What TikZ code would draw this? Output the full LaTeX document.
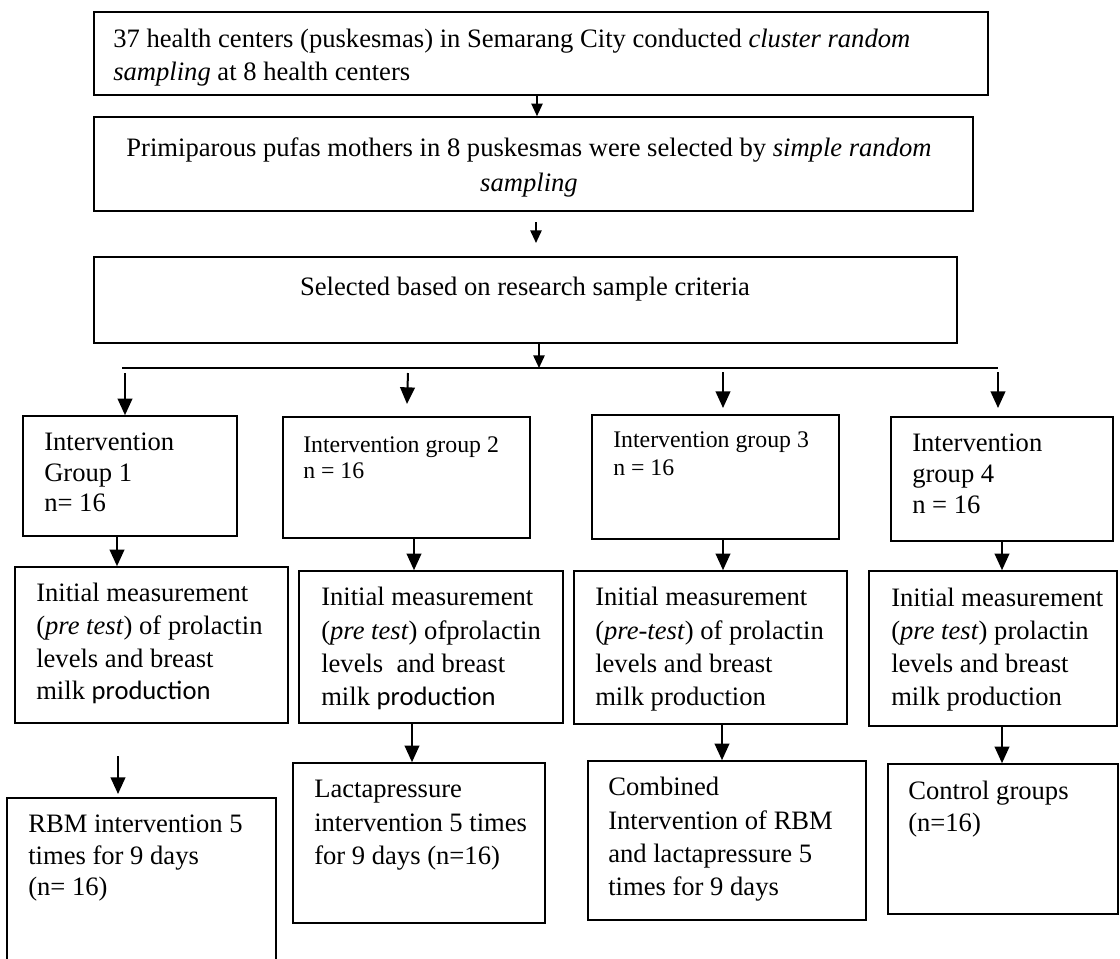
\documentclass[tikz,border=0pt]{standalone}
\usepackage{fontspec}
\setmainfont{Liberation Serif}
\newfontfamily\calibrifont{Carlito}
\usetikzlibrary{arrows.meta,fit}
\begin{document}
\begin{tikzpicture}[x=0.75pt,y=-0.75pt,
  box/.style={draw,line width=1.2pt,inner sep=0pt},
  txt/.style={inner sep=0pt,anchor=north west,align=left,font=\fontsize{19.95pt}{#1pt}\selectfont},
  txt/.default=24.75,
  stxt/.style={inner sep=0pt,anchor=north west,align=left,font=\fontsize{17.85pt}{#1pt}\selectfont},
  stxt/.default=20,
  arr/.style={line width=1.5pt,-{Triangle[length=12.5pt,width=11pt]}},
  arrs/.style={line width=1.2pt,-{Triangle[length=9.5pt,width=8.5pt]}},
  barline/.style={line width=1.1pt}
]
\useasboundingbox (0,0) rectangle (1120,958);

% boxes
\node[box, fit={(94,12) (988,95)}] (A) {};
\node[box, fit={(94,117) (973,211)}] (B) {};
\node[box, fit={(94,257) (957,343)}] (C) {};
\node[box, fit={(23,416) (237,536)}] (D1) {};
\node[box, fit={(283,417) (530,538)}] (D2) {};
\node[box, fit={(592,415) (839,539)}] (D3) {};
\node[box, fit={(891,417) (1113,541)}] (D4) {};
\node[box, fit={(15,567) (288,723)}] (E1) {};
\node[box, fit={(299,571) (563,723)}] (E2) {};
\node[box, fit={(574,571) (847,724)}] (E3) {};
\node[box, fit={(869,571) (1117,726)}] (E4) {};
\node[box, fit={(7,798) (276,964)}] (F1) {};
\node[box, fit={(293,763) (545,923)}] (F2) {};
\node[box, fit={(588,761) (866,920)}] (F3) {};
\node[box, fit={(888,764) (1118,914)}] (F4) {};

% texts
\node[txt=24.75] (tA) at (113,29) {37 health centers (puskesmas) in Semarang City conducted \textit{cluster random}\\\textit{sampling} at 8 health centers};
\node[txt=26.25, anchor=north, align=center] (tB) at (529,137) {Primiparous pufas mothers in 8 puskesmas were selected by \textit{simple random}\\\textit{sampling}};
\node[txt, anchor=base] (tC) at (525,295) {Selected based on research sample criteria};
\node[txt=22.9] (tD1) at (44,433) {Intervention\\Group 1\\n= 16};
\node[stxt=19.5] (tD2) at (303,436) {Intervention group 2\\n = 16};
\node[stxt=21] (tD3) at (613,431) {Intervention group 3\\n = 16};
\node[txt=23.25] (tD4) at (912,434) {Intervention\\group 4\\n = 16};
\node[txt=24.5] (tE1) at (36,583) {Initial measurement\\(\textit{pre test}) of prolactin\\levels and breast\\milk {\calibrifont production}};
\node[txt=25] (tE2) at (321,587) {Initial measurement\\(\textit{pre test}) ofprolactin\\levels\ \ and breast\\milk {\calibrifont production}};
\node[txt=25] (tE3) at (595,587) {Initial measurement\\(\textit{pre-test}) of prolactin\\levels and breast\\milk production};
\node[txt=24.75] (tE4) at (891,588) {Initial measurement\\(\textit{pre test}) prolactin\\levels and breast\\milk production};
\node[txt=23.6] (tF1) at (28,815) {RBM intervention 5\\times for 9 days\\(n= 16)};
\node[txt=25] (tF2) at (314,780) {Lactapressure\\intervention 5 times\\for 9 days (n=16)};
\node[txt=25] (tF3) at (608,777) {Combined\\Intervention of RBM\\and lactapressure 5\\times for 9 days};
\node[txt=24] (tF4) at (908,781) {Control groups\\(n=16)};

% coordinates for free ends and x positions
\coordinate (xAB) at (537,0);
\coordinate (bcS) at (536,222);
\coordinate (bcE) at (536,243);
\coordinate (cbar) at (539,368);
\coordinate (barL) at (122,368);
\coordinate (barR) at (998,368);
\coordinate (s1) at (125,373);
\coordinate (s2) at (408,373);
\coordinate (e2) at (407,404);
\coordinate (s3) at (723,372);
\coordinate (e3) at (723,408);
\coordinate (s4) at (998,372);
\coordinate (e4) at (998,408);
\coordinate (x1) at (117,0);
\coordinate (x2) at (414,0);
\coordinate (x3) at (723,0);
\coordinate (x4) at (1002,0);
\coordinate (f1s) at (118,756);
\coordinate (f1e) at (118,794);
\coordinate (fx2) at (412,0);
\coordinate (fx3) at (722,0);

% connectors
\draw[arrs] (A.south -| xAB) -- (B.north -| xAB);
\draw[arrs] (bcS) -- (bcE);
\draw[arrs] (C.south -| cbar) -- (cbar);
\draw[barline] (barL) -- (barR);
\draw[arr] (s1) -- (s1 |- D1.north);
\draw[arr] (s2) -- (e2);
\draw[arr] (s3) -- (e3);
\draw[arr] (s4) -- (e4);
\draw[arr] (D1.south -| x1) -- (E1.north -| x1);
\draw[arr] (D2.south -| x2) -- (E2.north -| x2);
\draw[arr] (D3.south -| x3) -- (E3.north -| x3);
\draw[arr] (D4.south -| x4) -- (E4.north -| x4);
\draw[arr] (f1s) -- (f1e);
\draw[arr] (E2.south -| fx2) -- (F2.north -| fx2);
\draw[arr] (E3.south -| fx3) -- (F3.north -| fx3);
\draw[arr] (E4.south -| x4) -- (F4.north -| x4);
\end{tikzpicture}
\end{document}
